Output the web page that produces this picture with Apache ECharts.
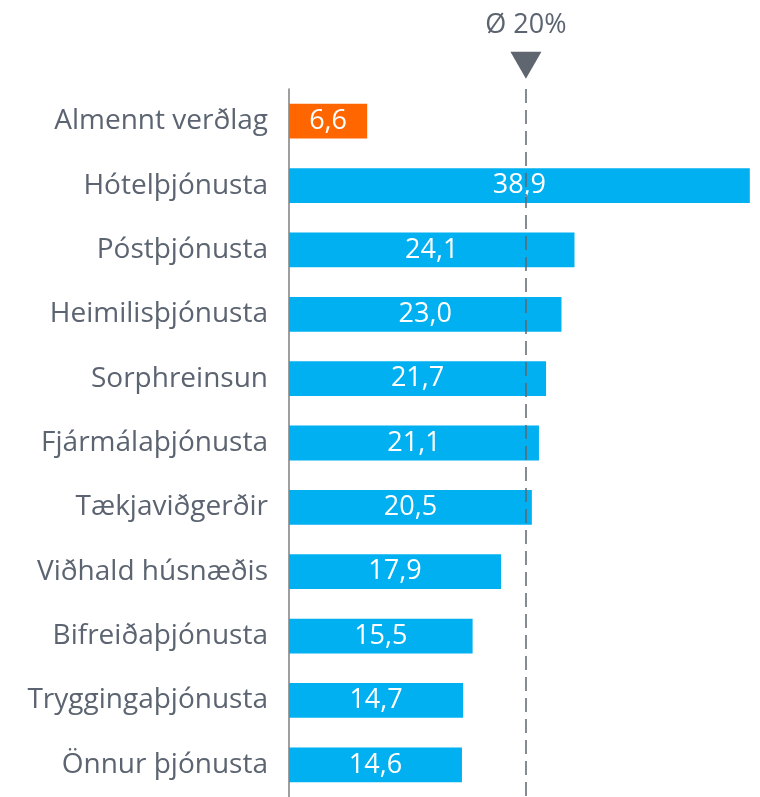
<!DOCTYPE html>
<html>
<head>
<meta charset="utf-8">
<script src="https://cdn.jsdelivr.net/npm/echarts@6/dist/echarts.min.js"></script>
<style>
  html, body { margin: 0; padding: 0; background: #fff; }
  #chart { width: 760px; height: 797px; }
</style>
</head>
<body>
<div id="chart"></div>
<script>
// flokkar og gildi (% hækkun)
const categories = ['Almennt verðlag', 'Hótelþjónusta', 'Póstþjónusta', 'Heimilisþjónusta', 'Sorphreinsun',
  'Fjármálaþjónusta', 'Tækjaviðgerðir', 'Viðhald húsnæðis', 'Bifreiðaþjónusta', 'Tryggingaþjónusta', 'Önnur þjónusta'];
const values = [6.6, 38.9, 24.1, 23.0, 21.7, 21.1, 20.5, 17.9, 15.5, 14.7, 14.6];
const average = 20;
const averageLabel = 'Ø 20%';

const font = 'Open Sans';
const textGray = '#5b6470';

const chart = echarts.init(document.getElementById('chart'));

const barData = values.map((v, i) => i === 0
  ? { value: v, itemStyle: { color: '#ff6600' } }
  : v);

chart.setOption({
  animation: false,
  grid: { left: 289, top: 89, width: 462, height: 711 },
  xAxis: {
    type: 'value', min: 0, max: 39,
    show: false
  },
  yAxis: {
    type: 'category',
    inverse: true,
    data: categories,
    axisTick: { show: false },
    axisLine: { lineStyle: { color: '#7f7f7f', width: 1.5 } },
    axisLabel: { fontFamily: font, fontSize: 28, color: textGray, margin: 21, padding: [6, 0, 0, 0] }
  },
  series: [{
    type: 'bar',
    data: barData,
    barWidth: '54%',
    clip: false,
    itemStyle: { color: '#00b0f0' },
    label: {
      show: true, position: 'inside', color: '#fff',
      fontFamily: font, fontSize: 27, padding: [5, 0, 0, 0],
      formatter: p => p.value.toFixed(1).replace('.', ',')
    },
    markLine: {
      silent: true,
      symbol: ['none', 'none'],
      label: { show: false },
      lineStyle: { color: '#5f6670', type: [14, 7], width: 1.5 },
      data: [{ xAxis: average }]
    },
    markPoint: {
      silent: true,
      symbol: 'triangle',
      symbolSize: [31, 27],
      symbolRotate: 180,
      itemStyle: { color: '#5f6670' },
      label: {
        show: true, position: 'top', distance: 13,
        formatter: averageLabel,
        fontFamily: font, fontSize: 27, color: textGray
      },
      data: [{ coord: [average, categories[0]], symbolOffset: [0, -56] }]
    }
  }]
});
</script>
</body>
</html>
